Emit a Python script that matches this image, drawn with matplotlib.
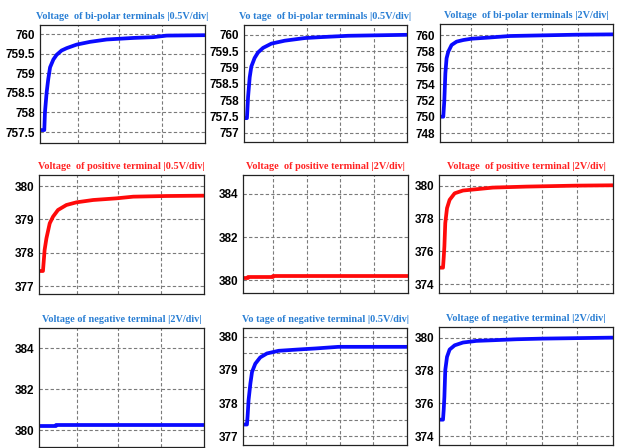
import numpy as np
from matplotlib import pyplot as plt
from matplotlib.ticker import FormatStrFormatter

# time as fraction of the window, voltages
t1 = [0, 0.026, 0.03, 0.04, 0.05, 0.061, 0.081, 0.101, 0.131, 0.162, 0.222, 0.303, 0.404, 0.566, 0.687, 0.768, 1.0]
v1 = [757.55, 757.55, 758.0, 758.5, 758.85, 759.15, 759.35, 759.47, 759.58, 759.64, 759.73, 759.80, 759.86, 759.90, 759.92, 759.96, 759.97]

t2 = [0, 0.018, 0.025, 0.035, 0.045, 0.065, 0.086, 0.117, 0.168, 0.25, 0.372, 0.474, 0.638, 1.0]
v2 = [757.45, 757.45, 758.1, 758.7, 759.03, 759.29, 759.46, 759.6, 759.73, 759.82, 759.9, 759.93, 759.97, 760.0]

t3 = [0, 0.019, 0.025, 0.031, 0.038, 0.048, 0.067, 0.096, 0.135, 0.183, 0.269, 0.404, 0.596, 0.788, 1.0]
v3 = [750.0, 750.0, 752.0, 755.3, 757.15, 757.97, 758.78, 759.19, 759.39, 759.55, 759.67, 759.88, 759.96, 760.04, 760.08]

t4 = [0, 0.024, 0.028, 0.034, 0.045, 0.065, 0.085, 0.115, 0.166, 0.227, 0.328, 0.47, 0.571, 0.773, 1.0]
v4 = [377.45, 377.45, 377.7, 378.08, 378.43, 378.88, 379.08, 379.28, 379.43, 379.51, 379.58, 379.63, 379.68, 379.70, 379.71]

t5 = [0, 0.03, 0.03, 0.18, 0.18, 1.0]
v5 = [380.1, 380.1, 380.15, 380.15, 380.2, 380.2]

t6 = [0, 0.023, 0.027, 0.031, 0.036, 0.046, 0.061, 0.09, 0.138, 0.215, 0.31, 0.502, 0.789, 1.0]
v6 = [375.0, 375.0, 375.6, 376.3, 377.72, 378.64, 379.15, 379.55, 379.72, 379.8, 379.9, 379.96, 380.02, 380.04]

t7 = [0, 0.1, 0.1, 1.0]
v7 = [380.18, 380.18, 380.26, 380.26]

t8 = [0, 0.024, 0.028, 0.034, 0.045, 0.055, 0.075, 0.105, 0.146, 0.217, 0.338, 0.439, 0.581, 1.0]
v8 = [377.35, 377.35, 377.6, 378.09, 378.59, 378.94, 379.19, 379.38, 379.5, 379.58, 379.62, 379.65, 379.7, 379.7]

t9 = [0, 0.023, 0.027, 0.031, 0.036, 0.046, 0.061, 0.09, 0.138, 0.215, 0.31, 0.444, 0.598, 1.0]
v9 = [375.0, 375.0, 375.6, 376.4, 378.03, 378.84, 379.29, 379.55, 379.72, 379.82, 379.86, 379.92, 379.96, 380.02]

titles = ['Voltage  of bi-polar terminals |0.5V/div|',
          'Vo tage  of bi-polar terminals |0.5V/div|',
          'Voltage  of bi-polar terminals |2V/div|',
          'Voltage  of positive terminal |0.5V/div|',
          'Voltage  of positive terminal |2V/div|',
          'Voltage  of positive terminal |2V/div|',
          'Voltage of negative terminal |2V/div|',
          'Vo tage of negative terminal |0.5V/div|',
          'Voltage of negative terminal |2V/div|']

yticks = [np.arange(757.5, 760.01, 0.5), np.arange(757, 760.01, 0.5), np.arange(748, 760.1, 2),
          [377, 378, 379, 380], [380, 382, 384], [374, 376, 378, 380],
          [380, 382, 384], [377, 378, 379, 380], [374, 376, 378, 380]]
ylims = [(757.22, 760.23), (756.72, 760.3), (746.9, 761.35),
         (376.76, 380.33), (379.4, 384.88), (373.45, 380.67),
         (379.17, 384.98), (376.73, 380.27), (373.45, 380.67)]

BLUE = '#0a0aff'
RED = '#ff0a0a'
TBLUE = '#2a7fd4'
TRED = '#ff2222'

W, H = 621, 448
# axes boxes in pixels: left, top, right, bottom
boxes = [(40, 25, 205, 143), (244, 25, 407, 142), (440, 24, 613, 142),
         (39, 175, 204, 294), (243, 175, 408, 293), (439, 175, 613, 293),
         (39, 328, 204, 447), (243, 328, 407, 445), (439, 327, 613, 445)]
xgrid4 = [0.23, 0.48, 0.74]
xgrid5 = [0.18, 0.385, 0.59, 0.795]

series = [(t1, v1), (t2, v2), (t3, v3), (t4, v4), (t5, v5), (t6, v6), (t7, v7), (t8, v8), (t9, v9)]

fig = plt.figure(figsize=(W / 100, H / 100), dpi=100)

for i, (t, v) in enumerate(series):
    l, tp, r, b = boxes[i]
    ax = fig.add_axes([l / W, 1 - b / H, (r - l) / W, (b - tp) / H])
    red = i in (3, 4, 5)
    ax.plot(t, v, color=RED if red else BLUE, lw=2.7, solid_capstyle='butt')
    ax.set_xlim(0, 1)
    ax.set_ylim(*ylims[i])
    ax.set_xticks(xgrid4 if i % 3 == 0 else xgrid5)
    ax.set_xticklabels([])
    ax.set_yticks(yticks[i])
    if i == 7:
        ax.set_yticks([377.5, 378.5, 379.5], minor=True)
    ax.yaxis.set_major_formatter(FormatStrFormatter('%g'))
    ax.tick_params(length=0, pad=3.5, which='both')
    for lab in ax.get_yticklabels():
        lab.set_family('Liberation Sans')
        lab.set_fontweight('bold')
        lab.set_fontsize(8.5)
    ax.grid(True, which='both', color='#7a7a7a', ls=(0, (3, 2)), lw=0.8)
    for s in ax.spines.values():
        s.set_linewidth(0.9)
        s.set_color('#222222')
    ax.set_title(titles[i], color=TRED if red else TBLUE, fontsize=7.4,
                 family='Liberation Serif', fontweight='bold', pad=4)

fig.savefig('out.png', dpi=100)
